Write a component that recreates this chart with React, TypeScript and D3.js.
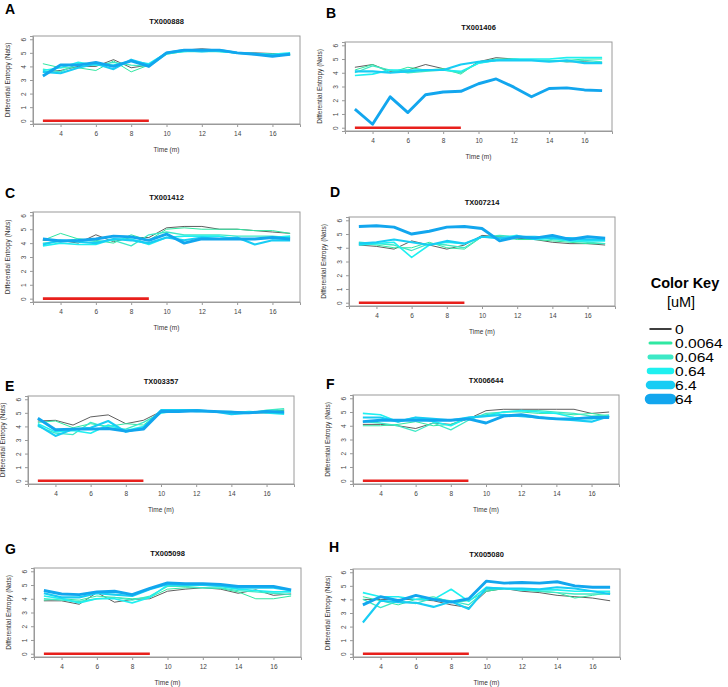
import React, { useEffect, useRef } from 'react';
import * as d3 from 'd3';

// time points (minutes)
const times = [3, 4, 5, 6, 7, 8, 9, 10, 11, 12, 13, 14, 15, 16, 17];
const xTicks = [4, 6, 8, 10, 12, 14, 16];
const yTicks = [0, 1, 2, 3, 4, 5, 6];
const treatment = [3, 9];

// concentrations, uM
const doses = ['0', '0.0064', '0.064', '0.64', '6.4', '64'];
const doseColors = ['#1a1a1a', '#2fe8a2', '#3de9c6', '#1ff0f0', '#18cdf4', '#12a6ee'];
const plotWidths = [0.7, 1, 1.3, 1.6, 2.1, 2.9];
const keyWidths = [1.5, 3, 5, 6.5, 8.5, 10.5];

// TX000888
const a0 = [3.6, 3.7, 4.0, 4.0, 4.5, 3.9, 4.1, 5.0, 5.2, 5.3, 5.2, 5.0, 5.0, 4.95, 4.9];
const a1 = [4.2, 3.9, 3.9, 3.7, 4.4, 3.6, 4.1, 4.9, 5.1, 5.1, 5.1, 5.0, 4.9, 4.9, 4.85];
const a2 = [3.8, 3.6, 4.2, 4.1, 4.3, 4.1, 4.0, 4.9, 5.1, 5.1, 5.1, 5.0, 4.9, 4.8, 4.9];
const a3 = [3.7, 3.9, 4.3, 4.1, 4.1, 4.4, 4.2, 5.0, 5.1, 5.2, 5.1, 5.0, 4.95, 4.9, 5.0];
const a4 = [3.6, 3.5, 3.9, 4.2, 3.8, 4.5, 4.1, 5.0, 5.2, 5.1, 5.2, 5.0, 4.9, 4.8, 4.9];
const a5 = [3.3, 4.1, 4.1, 4.3, 4.0, 4.4, 4.0, 5.0, 5.2, 5.2, 5.2, 5.0, 4.9, 4.75, 4.9];

// TX001406
const b0 = [4.4, 4.6, 4.1, 4.2, 4.6, 4.3, 4.0, 4.8, 5.1, 5.0, 4.9, 4.9, 4.8, 4.8, 4.7];
const b1 = [4.2, 4.6, 4.0, 4.4, 4.2, 4.3, 3.9, 4.8, 5.0, 5.0, 4.9, 4.9, 4.9, 5.0, 5.0];
const b2 = [4.0, 4.5, 4.2, 4.0, 4.1, 4.2, 4.0, 4.7, 4.9, 4.9, 4.9, 4.9, 4.8, 4.9, 4.8];
const b3 = [3.8, 3.9, 4.2, 4.2, 4.2, 4.2, 4.1, 4.7, 4.9, 5.0, 5.0, 5.0, 5.1, 5.1, 5.1];
const b4 = [4.1, 4.1, 4.0, 4.1, 4.2, 4.2, 4.6, 4.8, 4.9, 4.9, 4.9, 4.8, 4.9, 4.7, 4.7];
const b5 = [1.35, 0.25, 2.25, 1.1, 2.4, 2.6, 2.65, 3.2, 3.55, 2.95, 2.25, 2.85, 2.9, 2.75, 2.7];

// TX001412
const c0 = [4.2, 4.2, 4.0, 4.6, 4.1, 4.4, 4.4, 5.1, 5.2, 5.2, 5.0, 5.0, 4.9, 4.8, 4.7];
const c1 = [4.2, 4.7, 4.3, 4.2, 4.0, 4.6, 4.2, 5.0, 5.1, 5.0, 5.0, 5.0, 4.9, 4.9, 4.7];
const c2 = [4.0, 4.1, 4.3, 4.1, 4.2, 3.8, 4.6, 4.8, 4.6, 4.6, 4.6, 4.5, 4.5, 4.5, 4.4];
const c3 = [3.8, 4.0, 3.9, 3.9, 4.3, 4.3, 3.9, 4.4, 4.5, 4.5, 4.5, 4.3, 4.3, 4.4, 4.5];
const c4 = [3.9, 4.2, 4.1, 4.0, 4.3, 4.2, 4.0, 4.4, 4.2, 4.4, 4.3, 4.4, 3.9, 4.2, 4.2];
const c5 = [4.3, 4.15, 4.2, 4.3, 4.5, 4.45, 4.2, 4.65, 4.0, 4.3, 4.3, 4.3, 4.3, 4.4, 4.3];

// TX007214
const d0 = [4.2, 4.1, 3.9, 4.5, 4.2, 3.9, 4.2, 4.9, 4.8, 4.7, 4.6, 4.4, 4.3, 4.3, 4.2];
const d1 = [4.3, 4.2, 4.0, 4.0, 4.4, 4.0, 3.9, 4.8, 4.8, 4.6, 4.6, 4.5, 4.4, 4.3, 4.3];
const d2 = [4.4, 4.3, 4.2, 3.8, 4.3, 4.2, 4.0, 4.8, 4.9, 4.8, 4.8, 4.6, 4.5, 4.4, 4.3];
const d3v = [4.2, 4.3, 4.4, 3.3, 4.2, 4.4, 4.3, 4.8, 4.7, 4.9, 4.6, 4.7, 4.5, 4.5, 4.5];
const d4 = [4.3, 4.4, 4.6, 4.4, 4.2, 4.5, 4.3, 4.8, 4.7, 4.8, 4.8, 4.7, 4.7, 4.6, 4.6];
const d5 = [5.55, 5.6, 5.5, 5.0, 5.2, 5.5, 5.55, 5.4, 4.5, 4.8, 4.7, 4.9, 4.6, 4.8, 4.7];

// TX003357
const e0 = [4.4, 4.45, 4.1, 4.7, 4.85, 4.2, 4.45, 5.1, 5.2, 5.2, 5.1, 5.1, 5.0, 5.0, 5.2];
const e1 = [4.3, 4.4, 3.9, 4.2, 4.0, 4.2, 4.1, 5.1, 5.2, 5.2, 5.1, 5.0, 5.1, 5.1, 5.2];
const e2 = [4.0, 3.5, 3.4, 4.3, 3.9, 3.8, 4.3, 5.0, 5.1, 5.2, 5.1, 5.1, 5.0, 5.2, 5.3];
const e3 = [4.2, 3.6, 3.7, 3.5, 4.1, 3.7, 4.0, 5.0, 5.2, 5.1, 5.1, 5.0, 5.1, 5.0, 4.9];
const e4 = [4.1, 3.3, 3.8, 3.9, 4.4, 3.6, 3.9, 5.2, 5.2, 5.2, 5.1, 4.9, 5.0, 5.1, 5.0];
const e5 = [4.6, 3.75, 3.8, 3.8, 3.85, 3.65, 3.8, 5.1, 5.1, 5.15, 5.1, 5.05, 5.0, 5.1, 5.05];

// TX006644
const f0 = [4.1, 4.1, 4.0, 3.8, 4.2, 4.1, 4.5, 5.1, 5.2, 5.2, 5.2, 5.2, 5.2, 4.9, 5.0];
const f1 = [4.0, 4.0, 4.1, 4.3, 4.0, 4.1, 4.6, 4.8, 5.0, 5.0, 4.9, 4.9, 4.8, 4.9, 4.7];
const f2 = [4.3, 4.2, 4.0, 3.6, 4.2, 3.7, 4.4, 4.9, 5.0, 5.1, 5.1, 5.0, 4.9, 4.7, 4.8];
const f3 = [4.9, 4.8, 4.3, 4.6, 4.3, 4.0, 4.6, 4.7, 5.0, 5.1, 5.0, 4.9, 4.6, 4.5, 4.7];
const f4 = [4.6, 4.6, 4.3, 4.6, 4.5, 4.4, 4.6, 4.7, 4.8, 4.7, 4.6, 4.5, 4.4, 4.3, 4.7];
const f5 = [4.3, 4.4, 4.4, 4.4, 4.4, 4.4, 4.5, 4.2, 4.7, 4.8, 4.6, 4.5, 4.5, 4.6, 4.6];

// TX005098
const g0 = [3.85, 3.85, 3.6, 4.45, 3.75, 3.95, 4.0, 4.55, 4.7, 4.8, 4.7, 4.4, 4.65, 4.25, 4.35];
const g1 = [3.9, 4.0, 3.9, 4.2, 4.1, 4.0, 4.1, 4.7, 4.8, 4.8, 4.75, 4.5, 4.0, 4.0, 4.2];
const g2 = [4.0, 3.9, 3.8, 4.0, 4.1, 3.9, 4.2, 4.9, 4.9, 4.8, 4.8, 4.6, 4.5, 4.4, 4.3];
const g3 = [4.2, 4.0, 3.7, 4.0, 4.0, 3.7, 4.1, 5.0, 5.0, 5.0, 4.9, 4.7, 4.6, 4.5, 4.5];
const g4 = [4.4, 4.1, 4.1, 4.4, 4.3, 4.2, 4.7, 5.05, 5.0, 5.0, 4.95, 4.8, 4.8, 4.8, 4.6];
const g5 = [4.6, 4.35, 4.3, 4.5, 4.55, 4.3, 4.75, 5.15, 5.1, 5.1, 5.05, 4.9, 4.9, 4.9, 4.65];

// TX005080
const h0 = [4.0, 4.0, 4.0, 4.0, 3.9, 3.6, 3.4, 4.6, 4.8, 4.6, 4.5, 4.3, 4.2, 4.1, 3.9];
const h1 = [4.2, 3.9, 3.6, 4.0, 4.2, 3.8, 3.9, 4.6, 4.8, 4.7, 4.6, 4.5, 4.1, 4.3, 4.5];
const h2 = [4.0, 3.4, 3.9, 3.7, 4.1, 3.9, 3.6, 4.7, 4.8, 4.7, 4.6, 4.5, 4.4, 4.4, 4.4];
const h3 = [4.5, 4.2, 4.2, 4.0, 4.0, 4.75, 3.85, 4.9, 4.8, 4.7, 4.7, 4.7, 4.6, 4.6, 4.6];
const h4 = [2.3, 3.9, 3.8, 3.75, 3.45, 3.85, 3.3, 4.85, 4.8, 4.8, 4.75, 4.9, 4.8, 4.6, 4.4];
const h5 = [3.6, 4.2, 3.9, 4.3, 4.0, 3.8, 4.05, 5.35, 5.2, 5.25, 5.2, 5.3, 5.0, 4.9, 4.9];

const panels = [
  { letter: 'A', title: 'TX000888', series: [a0, a1, a2, a3, a4, a5], box: { l: 33, t: 36, r: 300, b: 124 }, letterPos: [5, 14] },
  { letter: 'B', title: 'TX001406', series: [b0, b1, b2, b3, b4, b5], box: { l: 345, t: 42, r: 612, b: 131 }, letterPos: [326, 18] },
  { letter: 'C', title: 'TX001412', series: [c0, c1, c2, c3, c4, c5], box: { l: 33, t: 212, r: 300, b: 302 }, letterPos: [5, 198] },
  { letter: 'D', title: 'TX007214', series: [d0, d1, d2, d3v, d4, d5], box: { l: 349, t: 217, r: 615, b: 306 }, letterPos: [330, 197] },
  { letter: 'E', title: 'TX003357', series: [e0, e1, e2, e3, e4, e5], box: { l: 28, t: 396, r: 294, b: 484 }, letterPos: [5, 391] },
  { letter: 'F', title: 'TX006644', series: [f0, f1, f2, f3, f4, f5], box: { l: 353, t: 395, r: 619, b: 484 }, letterPos: [326, 389] },
  { letter: 'G', title: 'TX005098', series: [g0, g1, g2, g3, g4, g5], box: { l: 34, t: 568, r: 301, b: 657 }, letterPos: [5, 554] },
  { letter: 'H', title: 'TX005080', series: [h0, h1, h2, h3, h4, h5], box: { l: 353, t: 569, r: 620, b: 657 }, letterPos: [329, 552] },
];

const FONT = 'Liberation Sans, Arial, Helvetica, sans-serif';

function drawPanel(svg, p) {
  const { l, t, r, b } = p.box;
  const x = d3.scaleLinear().domain([2.44, 17.56]).range([l, r]);
  const y = d3.scaleLinear().domain([-0.24, 6.24]).range([b, t]);
  const g = svg.append('g');

  g.append('text')
    .attr('x', p.letterPos[0])
    .attr('y', p.letterPos[1])
    .attr('font-size', 14)
    .attr('font-weight', 'bold')
    .attr('fill', '#000')
    .text(p.letter);

  g.append('text')
    .attr('x', (l + r) / 2)
    .attr('y', t - 15 + 3)
    .attr('text-anchor', 'middle')
    .attr('font-size', 7.5)
    .attr('font-weight', 'bold')
    .attr('fill', '#111')
    .text(p.title);

  // box
  g.append('rect')
    .attr('x', l)
    .attr('y', t)
    .attr('width', r - l)
    .attr('height', b - t)
    .attr('fill', 'none')
    .attr('stroke', '#9a9a9a')
    .attr('stroke-width', 1);

  // bottom axis
  const xa = g.append('g').attr('transform', `translate(0,${b})`).call(
    d3.axisBottom(x).tickValues(xTicks).tickSize(3).tickPadding(4),
  );
  xa.select('.domain').attr('stroke', '#9a9a9a');
  xa.selectAll('line').attr('stroke', '#9a9a9a');
  xa.selectAll('text').attr('font-size', 6.5).attr('fill', '#444').attr('font-family', FONT);

  // left axis with rotated labels
  const ya = g.append('g').attr('transform', `translate(${l},0)`).call(
    d3.axisLeft(y).tickValues(yTicks).tickSize(3).tickFormat(d3.format('d')),
  );
  ya.select('.domain').attr('stroke', '#9a9a9a');
  ya.selectAll('line').attr('stroke', '#9a9a9a');
  ya.selectAll('text')
    .attr('font-size', 6.5)
    .attr('fill', '#444')
    .attr('font-family', FONT)
    .attr('x', null)
    .attr('dy', null)
    .attr('text-anchor', 'middle')
    .attr('transform', 'translate(-7,0) rotate(-90)');

  g.append('text')
    .attr('transform', `translate(${l - 23},${(t + b) / 2}) rotate(-90)`)
    .attr('text-anchor', 'middle')
    .attr('font-size', 6.5)
    .attr('fill', '#333')
    .text('Differential Entropy (Nats)');

  g.append('text')
    .attr('x', (l + r) / 2)
    .attr('y', b + 28)
    .attr('text-anchor', 'middle')
    .attr('font-size', 6.5)
    .attr('fill', '#333')
    .text('Time (m)');

  // treatment window
  g.append('line')
    .attr('x1', x(treatment[0]))
    .attr('x2', x(treatment[1]))
    .attr('y1', y(0))
    .attr('y2', y(0))
    .attr('stroke', '#e8201c')
    .attr('stroke-width', 2.6);

  const line = d3
    .line()
    .x((d, i) => x(times[i]))
    .y((d) => y(d));

  p.series.forEach((s, i) => {
    g.append('path')
      .datum(s)
      .attr('fill', 'none')
      .attr('stroke', doseColors[i])
      .attr('stroke-width', plotWidths[i])
      .attr('stroke-linejoin', 'round')
      .attr('d', line);
  });
}

function drawKey(svg) {
  const g = svg.append('g').attr('font-family', FONT);
  g.append('text')
    .attr('x', 685)
    .attr('y', 288)
    .attr('text-anchor', 'middle')
    .attr('font-size', 14.5)
    .attr('font-weight', 'bold')
    .text('Color Key');
  g.append('text')
    .attr('x', 681)
    .attr('y', 307)
    .attr('text-anchor', 'middle')
    .attr('font-size', 14.5)
    .text('[uM]');

  const rowY = d3.scalePoint().domain(doses).range([329, 399]);
  doses.forEach((d, i) => {
    g.append('line')
      .attr('x1', 650)
      .attr('x2', 671)
      .attr('y1', rowY(d))
      .attr('y2', rowY(d))
      .attr('stroke', i === 0 ? '#000' : doseColors[i])
      .attr('stroke-width', keyWidths[i])
      .attr('stroke-linecap', 'round');
    // entries are drawn a little wider than tall, as in the key image
    g.append('text')
      .attr('transform', `translate(675,${rowY(d) + 4.5}) scale(1.25,1)`)
      .attr('font-size', 12.5)
      .text(d);
  });
}

export default function App() {
  const ref = useRef(null);

  useEffect(() => {
    const svg = d3.select(ref.current);
    svg.selectAll('*').remove();
    svg.attr('font-family', FONT);
    panels.forEach((p) => drawPanel(svg, p));
    drawKey(svg);
  }, []);

  return (
    <svg
      ref={ref}
      width={728}
      height={687}
      style={{ position: 'absolute', left: 0, top: 0, background: '#fff' }}
    />
  );
}
